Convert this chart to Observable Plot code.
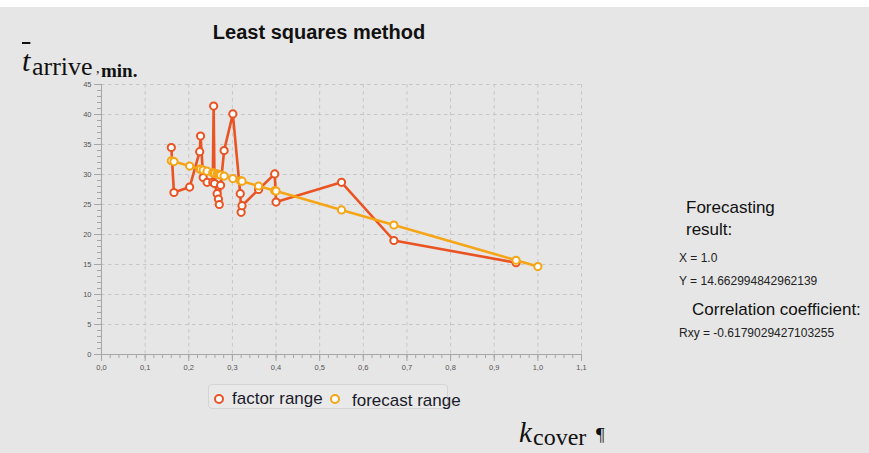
<!DOCTYPE html>
<html>
<head>
<meta charset="utf-8">
<script src="https://cdn.jsdelivr.net/npm/d3@7"></script>
<script src="https://cdn.jsdelivr.net/npm/@observablehq/plot@0.6"></script>
<style>
  html, body { margin: 0; padding: 0; background: #ffffff; }
  #wrap { position: relative; width: 869px; height: 453px; background: #e6e6e6; overflow: hidden; font-family: "Liberation Sans", Arial, sans-serif; }
  #topstrip { position: absolute; left: 0; top: 0; width: 869px; height: 7px; background: #ffffff; }
  .abs { position: absolute; white-space: nowrap; line-height: 1; }
  #chart { position: absolute; left: 0; top: 60px; }
  #title { left: 119px; width: 400px; top: 22px; text-align: center; font-weight: bold; font-size: 20px; color: #111; }
  .serif { font-family: "Liberation Serif", "Times New Roman", serif; color: #111; }
  #legend { position: absolute; left: 208px; top: 384px; width: 240px; height: 25px; border: 1px solid #d4d4d4; border-radius: 4px; background: #e9e9e9; box-sizing: border-box; }
  .leg { font-size: 17px; color: #1a1a2a; }
  .sym { position: absolute; width: 6px; height: 6px; border-radius: 50%; background: #fff; border-width: 2.5px; border-style: solid; }
  .rt { font-size: 17px; color: #111; }
  .rs { font-size: 12px; color: #222; }
</style>
</head>
<body>
<div id="wrap">
  <div id="topstrip"></div>
  <div id="title" class="abs">Least squares method</div>

  <div class="abs serif" style="left:22px; top:46px; font-size:30px; font-style:italic; text-decoration:overline; text-decoration-thickness:1.5px;">t</div>
  <div class="abs serif" style="left:32px; top:54px; font-size:26px;">arrive</div>
  <div class="abs serif" style="left:96px; top:62px; font-size:14px;">,</div>
  <div class="abs serif" style="left:101px; top:61px; font-size:19px; font-weight:bold;">min.</div>

  <div id="chart"></div>

  <div id="legend"></div>
  <div class="sym" style="left:214px; top:394px; border-color:#ea5322;"></div>
  <div class="abs leg" style="left:232px; top:390px;">factor range</div>
  <div class="sym" style="left:330px; top:394px; border-color:#f5a516;"></div>
  <div class="abs leg" style="left:352px; top:392px;">forecast range</div>

  <div class="abs rt" style="left:686px; top:199px;">Forecasting</div>
  <div class="abs rt" style="left:686px; top:221px;">result:</div>
  <div class="abs rs" style="left:679px; top:252px;">X = 1.0</div>
  <div class="abs rs" style="left:679px; top:275px;">Y = 14.662994842962139</div>
  <div class="abs rt" style="left:692px; top:301px;">Correlation coefficient:</div>
  <div class="abs rs" style="left:679px; top:327px;">Rxy = -0.6179029427103255</div>

  <div class="abs serif" style="left:519px; top:418px; font-size:29px; font-style:italic;">k</div>
  <div class="abs serif" style="left:533px; top:425px; font-size:24px;">cover</div>
  <div class="abs serif" style="left:596px; top:425px; font-size:19px;">&#182;</div>
</div>
<script>
// ---- data ----
const factorX = [0.160, 0.166, 0.202, 0.225, 0.227, 0.233, 0.242, 0.255, 0.257, 0.259, 0.265, 0.268, 0.270, 0.273, 0.281, 0.301, 0.318, 0.320, 0.322, 0.360, 0.397, 0.400, 0.550, 0.670, 0.950];
const factorY = [34.5, 27.0, 27.9, 33.8, 36.4, 29.5, 28.7, 28.7, 41.4, 28.5, 26.8, 25.9, 25.0, 28.2, 34.0, 40.1, 26.8, 23.7, 24.8, 27.5, 30.1, 25.4, 28.7, 19.0, 15.3];
const forecastX = [0.160, 0.166, 0.202, 0.225, 0.227, 0.233, 0.242, 0.255, 0.257, 0.259, 0.265, 0.268, 0.270, 0.273, 0.281, 0.301, 0.318, 0.320, 0.322, 0.360, 0.397, 0.400, 0.550, 0.670, 0.950, 1.000];
const forecastY = [32.28, 32.15, 31.40, 30.91, 30.87, 30.75, 30.56, 30.29, 30.24, 30.20, 30.08, 30.01, 29.97, 29.91, 29.74, 29.32, 28.96, 28.92, 28.88, 28.08, 27.31, 27.24, 24.10, 21.58, 15.71, 14.66];

const xTicks = [0, 0.1, 0.2, 0.3, 0.4, 0.5, 0.6, 0.7, 0.8, 0.9, 1.0, 1.1];
const xTickLabels = ["0,0", "0,1", "0,2", "0,3", "0,4", "0,5", "0,6", "0,7", "0,8", "0,9", "1,0", "1,1"];
const yTicks = [0, 5, 10, 15, 20, 25, 30, 35, 40, 45];
const yTickLabels = ["0", "5", "10", "15", "20", "25", "30", "35", "40", "45"];

const factor = factorX.map((x, i) => ({x, y: factorY[i]}));
const forecast = forecastX.map((x, i) => ({x, y: forecastY[i]}));

const xMinor = d3.range(0, 56).map(i => i * 0.02);
const yMinor = d3.range(0, 46);

const red = "#ea5322", orange = "#f5a516";
const axisColor = "#a6a6a6";
const gridColor = "#c6c6c6";

const chart = Plot.plot({
  width: 600,
  height: 322,
  marginLeft: 101,
  marginRight: 19,
  marginTop: 24,
  marginBottom: 28,
  style: {background: "transparent", fontFamily: "Liberation Sans, Arial, sans-serif", fontSize: "7.5px", color: "#555"},
  x: {domain: [0, 1.1], label: null},
  y: {domain: [0, 45], label: null},
  marks: [
    Plot.gridX(xTicks.slice(1), {stroke: gridColor, strokeOpacity: 1, strokeDasharray: "3.5,3.5"}),
    Plot.gridY(yTicks.slice(1), {stroke: gridColor, strokeOpacity: 1, strokeDasharray: "3.5,3.5"}),
    Plot.axisX(xMinor, {tickSize: 4, tickFormat: () => "", stroke: axisColor, label: null}),
    Plot.axisY(yMinor, {tickSize: 4, tickFormat: () => "", stroke: axisColor, label: null}),
    Plot.axisX(xTicks, {tickSize: 7, tickPadding: 3, stroke: axisColor, fill: "#555", tickFormat: d => xTickLabels[xTicks.indexOf(d)], label: null}),
    Plot.axisY(yTicks, {tickSize: 7, tickPadding: 3, stroke: axisColor, fill: "#555", tickFormat: d => yTickLabels[yTicks.indexOf(d)], label: null}),
    Plot.ruleX([0], {stroke: axisColor}),
    Plot.ruleY([0], {stroke: axisColor}),
    Plot.line(factor, {x: "x", y: "y", stroke: red, strokeWidth: 2.6, strokeLinejoin: "round"}),
    Plot.dot(factor, {x: "x", y: "y", r: 3.6, fill: "#fff", stroke: red, strokeWidth: 2}),
    Plot.line(forecast, {x: "x", y: "y", stroke: orange, strokeWidth: 2.6, strokeLinejoin: "round"}),
    Plot.dot(forecast, {x: "x", y: "y", r: 3.6, fill: "#fff", stroke: orange, strokeWidth: 2})
  ]
});
document.getElementById("chart").appendChild(chart);
</script>
</body>
</html>
